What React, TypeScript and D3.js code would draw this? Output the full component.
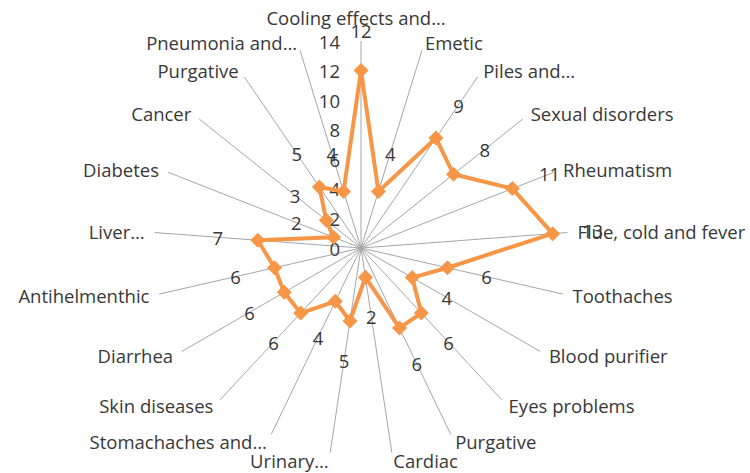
import React from "react";
import * as d3 from "d3";

const categories = [
  "Cooling effects and…",
  "Emetic",
  "Piles and…",
  "Sexual disorders",
  "Rheumatism",
  "Flue, cold and fever",
  "Toothaches",
  "Blood purifier",
  "Eyes problems",
  "Purgative",
  "Cardiac",
  "Urinary…",
  "Stomachaches and…",
  "Skin diseases",
  "Diarrhea",
  "Antihelmenthic",
  "Liver…",
  "Diabetes",
  "Cancer",
  "Purgative",
  "Pneumonia and…",
];

const values = [12, 4, 9, 8, 11, 13, 6, 4, 6, 6, 2, 5, 4, 6, 6, 6, 7, 2, 3, 5, 4];

const ticks = [0, 2, 4, 6, 8, 10, 12, 14];

const W = 750;
const H = 473;
const cx = 361;
const cy = 248;
const R = 207;
const FONT = "'Open Sans', 'Noto Sans', sans-serif";
const TEXT = "#383838";
const ORANGE = "#F79646";
const FS = 18.5;

export default function App() {
  const r = d3.scaleLinear().domain([0, 14]).range([0, R]);
  const angle = d3
    .scaleLinear()
    .domain([0, categories.length])
    .range([0, 2 * Math.PI]);

  const pt = (i: number, rad: number) => {
    const a = angle(i);
    return [cx + rad * Math.sin(a), cy - rad * Math.cos(a)];
  };

  const line = d3
    .lineRadial<number>()
    .angle((_, i) => angle(i))
    .radius((d) => r(d))
    .curve(d3.curveLinearClosed);

  const diamond = (x: number, y: number, h: number) =>
    `M${x},${y - h}L${x + h},${y}L${x},${y + h}L${x - h},${y}Z`;

  return (
    <svg
      width={W}
      height={H}
      style={{ position: "absolute", left: 0, top: 0, background: "#fff" }}
      fontFamily={FONT}
    >
      <rect x={0} y={0} width={W} height={H} fill="#fff" />
      {categories.map((_, i) => {
        const [x, y] = pt(i, R);
        return (
          <line
            key={"s" + i}
            x1={cx}
            y1={cy}
            x2={x}
            y2={y}
            stroke="#a6a6a6"
            strokeWidth={1}
          />
        );
      })}
      {ticks.map((t) => (
        <text
          key={"t" + t}
          x={cx - 21}
          y={cy - r(t)}
          textAnchor="end"
          dominantBaseline="central"
          fontSize={FS}
          fill={TEXT}
        >
          {t}
        </text>
      ))}
      <path
        d={line(values) || ""}
        transform={`translate(${cx},${cy})`}
        fill="none"
        stroke={ORANGE}
        strokeWidth={4}
        strokeLinejoin="round"
      />
      {values.map((v, i) => {
        const [x, y] = pt(i, r(v));
        return <path key={"m" + i} d={diamond(x, y, 7.5)} fill={ORANGE} />;
      })}
      {values.map((v, i) => {
        const [x, y] = pt(i, r(v) + 40);
        return (
          <text
            key={"d" + i}
            x={x}
            y={y}
            textAnchor="middle"
            dominantBaseline="central"
            fontSize={FS}
            fill={TEXT}
          >
            {v}
          </text>
        );
      })}
      {categories.map((c, i) => {
        const a = angle(i);
        const s = Math.sin(a);
        const co = Math.cos(a);
        const [ex, ey] = pt(i, R);
        const anchor = Math.abs(s) < 0.05 ? "middle" : s > 0 ? "start" : "end";
        const x = Math.abs(s) < 0.05 ? ex - 5 : ex + s * 10;
        const y = co > 0.99 ? ey - 24 : ey - co * 8;
        return (
          <text
            key={"c" + i}
            x={x}
            y={y}
            textAnchor={anchor}
            dominantBaseline="central"
            fontSize={FS}
            fill={TEXT}
          >
            {c}
          </text>
        );
      })}
    </svg>
  );
}
